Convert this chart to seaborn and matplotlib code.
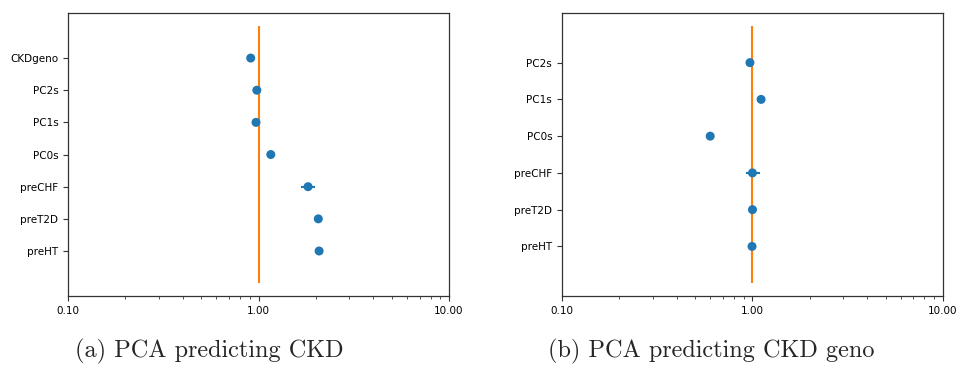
import numpy as np
import matplotlib
matplotlib.use("Agg")
import matplotlib.pyplot as plt
import matplotlib.ticker as mticker
import seaborn as sns
import pandas as pd

# ---- data (bottom to top) ----
cats_a = ["preHT", "preT2D", "preCHF", "PC0s", "PC1s", "PC2s", "CKDgeno"]
or_a = [2.08, 2.06, 1.82, 1.16, 0.97, 0.98, 0.91]
lo_a = [2.03, 2.01, 1.67, 1.14, 0.95, 0.96, 0.89]
hi_a = [2.13, 2.11, 1.97, 1.18, 0.99, 1.00, 0.93]

cats_b = ["preHT", "preT2D", "preCHF", "PC0s", "PC1s", "PC2s"]
or_b = [0.995, 1.0, 1.0, 0.60, 1.11, 0.97]
lo_b = [0.98, 0.98, 0.93, 0.59, 1.09, 0.95]
hi_b = [1.01, 1.02, 1.09, 0.61, 1.13, 0.99]

captions = ["(a) PCA predicting CKD", "(b) PCA predicting CKD geno"]
xticks = [0.1, 1.0, 10.0]

sns.set_style("ticks")
plt.rcParams["font.family"] = ["DejaVu Sans"]
plt.rcParams["axes.edgecolor"] = "#333333"
plt.rcParams["xtick.color"] = "#333333"
plt.rcParams["ytick.color"] = "#333333"
plt.rcParams["xtick.labelcolor"] = "black"
plt.rcParams["ytick.labelcolor"] = "black"

fig = plt.figure(figsize=(9.58, 3.65), dpi=100)
ax_a = fig.add_axes([0.071, 0.189, 0.3977, 0.7753])
ax_b = fig.add_axes([0.5866, 0.189, 0.3977, 0.7753])

blue = "#1f77b4"
orange = "#ff7f0e"

for ax, cats, vals, lo, hi, cap, cx in [
    (ax_a, cats_a, or_a, lo_a, hi_a, captions[0], 0.078),
    (ax_b, cats_b, or_b, lo_b, hi_b, captions[1], 0.572),
]:
    df = pd.DataFrame({"cat": cats, "pos": np.arange(len(cats)), "or": vals,
                       "lo": lo, "hi": hi})
    ax.hlines(df["pos"], df["lo"], df["hi"], color=blue, lw=1.5, zorder=2)
    sns.scatterplot(data=df, x="or", y="pos", ax=ax, color=blue, s=42,
                    edgecolor="none", zorder=3, legend=False)
    ax.vlines(1.0, -1, len(cats), color=orange, lw=1.5, zorder=2)
    ax.set_xscale("log")
    ax.set_xlim(0.1, 10)
    ax.margins(y=0.05)
    ax.set_yticks(df["pos"])
    ax.set_yticklabels(cats)
    ax.set_xticks(xticks)
    ax.xaxis.set_major_formatter(mticker.FormatStrFormatter("%.2f"))
    ax.tick_params(axis="both", labelsize=7.5, length=3.5, width=0.8)
    ax.tick_params(axis="x", which="minor", length=2, width=0.6)
    ax.set_xlabel("")
    ax.set_ylabel("")
    for s in ax.spines.values():
        s.set_linewidth(0.9)
        s.set_visible(True)
    fig.text(cx, 0.02, cap, family="cmr10", fontsize=17.5, ha="left",
             va="baseline")

fig.savefig("out.png", dpi=100)
